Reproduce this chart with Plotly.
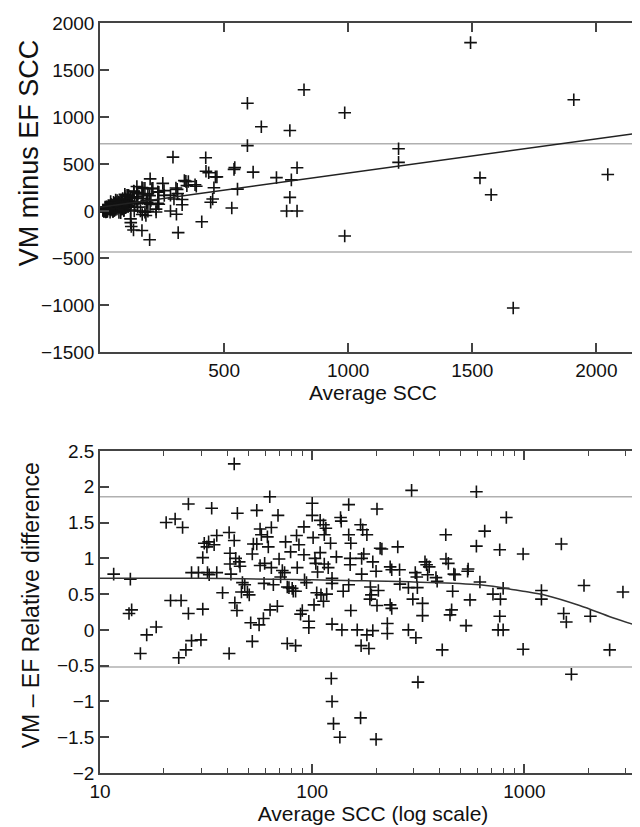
import plotly.graph_objects as go

# ---- data (average SCC, relative difference VM-EF) ----
avg_scc = [
    11.6, 13.9, 13.7, 14.1, 15.5, 16.6, 18.4, 20.5, 22.6, 24.5,
    21.5, 24.1, 26.1, 26.1, 23.5, 25.4, 27.0, 29.9, 30.5, 27.0,
    29.1, 30.5, 31.0, 31.9, 32.5, 33.6, 34.5, 35.5, 32.1, 32.7,
    35.5, 37.8, 40.6, 41.0, 41.0, 41.4, 40.6, 42.9, 42.9, 44.4,
    43.6, 45.3, 45.7, 43.2, 44.2, 46.9, 48.1, 46.4, 49.5, 50.5,
    51.3, 52.2, 52.2, 52.8, 54.8, 54.8, 56.2, 56.8, 57.6, 58.9,
    56.8, 59.7, 61.5, 62.1, 63.1, 64.2, 63.3, 64.2, 59.3, 65.6,
    68.5, 69.0, 69.8, 71.0, 72.3, 74.1, 74.9, 76.3, 77.7, 79.1,
    80.5, 81.4, 83.5, 84.4, 85.0, 86.6, 76.3, 83.5, 88.1, 89.8,
    91.4, 91.4, 92.0, 94.0, 96.4, 96.4, 100, 100, 101, 103,
    102, 104, 105, 106, 109, 109, 110, 113, 113, 114,
    116, 114, 117, 119, 122, 123, 124, 124, 124, 130,
    136, 137, 138, 140,
    148.6, 202, 294, 594, 148.6, 152, 169, 173, 181, 209,
    213, 253, 151, 151, 171, 175, 193, 200, 171, 148.6,
    188, 205, 187, 190, 202, 233, 237, 258, 233, 237,
    152, 163, 181, 193, 170, 185, 226, 226, 259, 284,
    298, 313, 331, 331, 284, 308, 315, 306, 311, 340,
    346, 356, 350, 383, 388, 427, 438, 471, 465, 543,
    540, 426, 459, 454, 446, 531, 554, 410, 617, 594,
    650, 711, 765, 771, 765, 752, 794, 794, 822, 986,
    986, 1203, 1203, 1493, 1531, 1576, 1665, 1909, 2046, 2522,
    2913,
    124, 126, 135, 169, 200,
]
rel_diff = [
    0.78, 0.71, 0.23, 0.28, -0.33, -0.07, 0.04, 1.50, 1.55, 1.43,
    0.41, 0.41, 1.76, 0.23, -0.39, -0.28, -0.15, -0.14, 0.29, 0.80,
    0.80, 1.01, 1.21, 1.16, 1.23, 1.70, 1.19, 1.32, 0.80, 0.77,
    0.80, 0.52, 1.36, 1.07, 0.92, 0.78, -0.33, 2.32, 1.25, 1.63,
    1.00, 0.95, 0.89, 0.38, 0.27, 0.66, 0.63, 0.53, 0.53, 0.49,
    0.10, -0.16, 1.06, 1.20, 1.20, 1.67, 0.07, 1.41, 1.33, 0.16,
    0.90, 0.93, 1.30, 1.16, 1.86, 1.43, 0.28, 0.87, 0.65, 0.63,
    0.33, 1.60, 0.99, 0.74, 0.83, 0.80, 1.23, 0.60, 0.59, 1.09,
    0.58, 0.54, 0.54, 1.32, 0.87, 1.19, -0.19, -0.22, 0.22, 0.27,
    1.05, 1.44, 0.70, 0.66, 0.12, 0.03, 1.77, 1.60, 1.29, 1.00,
    0.35, 0.93, 0.52, 0.81, 1.53, 1.08, 0.49, 1.47, 0.40, 0.92,
    1.42, 1.33, 0.50, 0.87, 1.21, -0.68, 0.08, 0.65, 0.72, 1.02,
    1.57, 1.52, 0.00, 0.54,
    1.75, 1.69, 1.95, 1.93, 1.33, 1.21, 1.47, 1.40, 1.33, 1.14,
    1.13, 1.16, 1.00, 0.91, 1.00, 1.06, 0.95, 0.82, 0.78, 0.63,
    0.60, 0.55, 0.43, 0.49, 0.34, 0.88, 0.84, 0.84, 0.35, 0.30,
    0.27, 0.00, -0.07, -0.01, -0.22, -0.26, 0.09, -0.05, 0.64, 0.59,
    0.43, 0.59, 0.37, 0.20, 0.00, -0.11, -0.73, 0.80, 0.74, 0.95,
    0.91, 0.88, 0.77, 0.73, 0.68, 0.99, 0.93, 0.77, 0.78, 0.85,
    0.82, 1.33, 0.54, 0.28, 0.21, 0.06, 0.42, -0.28, 0.67, 1.17,
    1.38, 0.50, 1.12, 0.43, 0.19, 0.00, 0.00, 0.58, 1.57, 1.06,
    -0.27, 0.55, 0.43, 1.20, 0.23, 0.11, -0.62, 0.62, 0.19, -0.28,
    0.53,
    -1.00, -1.31, -1.50, -1.23, -1.53,
]
# absolute difference VM minus EF (same samples)
vm_minus_ef = [round(a * r, 1) for a, r in zip(avg_scc, rel_diff)]

# regression line of difference on average (top panel)
reg_x = [0, 2200]
reg_y = [40, 840]
# limits of agreement
loa_abs = [715, -437]
loa_rel = [1.86, -0.52]
# fitted relative-difference curve (bottom panel)
curve_x = [10, 30, 100, 146, 300, 617, 986, 1268, 1820, 2608, 3741]
curve_y = [0.72, 0.72, 0.70, 0.69, 0.67, 0.63, 0.54, 0.48, 0.34, 0.17, 0.02]

top_xticks = [500, 1000, 1500, 2000]
bot_xticks = [10, 100, 1000]
bot_minor = [20, 30, 40, 50, 60, 70, 80, 90, 200, 300, 400, 500, 600, 700, 800, 900, 2000, 3000]

FONT = "Liberation Sans, Arial, sans-serif"
mk = dict(symbol="cross-thin", size=9, line=dict(width=1.6, color="#111"))

fig = go.Figure()
fig.add_trace(go.Scatter(x=avg_scc, y=vm_minus_ef, mode="markers", marker=mk,
                         xaxis="x", yaxis="y", showlegend=False))
fig.add_trace(go.Scatter(x=reg_x, y=reg_y, mode="lines", line=dict(color="#222", width=1.5),
                         xaxis="x", yaxis="y", showlegend=False))
fig.add_trace(go.Scatter(x=avg_scc, y=rel_diff, mode="markers", marker=mk,
                         xaxis="x2", yaxis="y2", showlegend=False))
fig.add_trace(go.Scatter(x=curve_x, y=curve_y, mode="lines",
                         line=dict(color="#333", width=1.5, shape="spline"),
                         xaxis="x2", yaxis="y2", showlegend=False))

shapes = []
for v in loa_abs:
    shapes.append(dict(type="line", xref="x domain", yref="y", x0=0, x1=1, y0=v, y1=v,
                       line=dict(color="#b0b0b0", width=1.5), layer="below"))
for v in loa_rel:
    shapes.append(dict(type="line", xref="x2 domain", yref="y2", x0=0, x1=1, y0=v, y1=v,
                       line=dict(color="#b0b0b0", width=1.5), layer="below"))

axis_common = dict(showline=True, linecolor="#444", linewidth=1.5, mirror="ticks",
                   ticks="inside", ticklen=9, tickwidth=1.5, tickcolor="#444",
                   showgrid=False, zeroline=False,
                   tickfont=dict(family=FONT, size=19, color="#111"))

W, H = 640, 827
ml, mr, mt, mb = 92, 0, 15, 62
plot_w = W - ml - mr
plot_h = H - mt - mb
def py(p):
    return (H - mb - p) / plot_h
def px(p):
    return (p - ml) / plot_w

annotations = [
    dict(text="VM minus EF SCC", xref="paper", yref="paper", x=px(21), y=py(145),
         textangle=-90, showarrow=False, xanchor="center", yanchor="middle",
         font=dict(family=FONT, size=27, color="#111")),
    dict(text="VM – EF Relative difference", xref="paper", yref="paper", x=px(23), y=py(597),
         textangle=-90, showarrow=False, xanchor="center", yanchor="middle",
         font=dict(family=FONT, size=23, color="#111")),
]

fig.update_layout(
    width=W, height=H,
    margin=dict(l=ml, r=mr, t=mt, b=mb),
    paper_bgcolor="white", plot_bgcolor="white",
    font=dict(family=FONT, color="#111"),
    shapes=shapes, annotations=annotations,
    xaxis=dict(domain=[0, 1], anchor="y", range=[0, 2200], tickvals=top_xticks,
               title=dict(text="Average SCC", font=dict(size=21), standoff=6), **axis_common),
    yaxis=dict(domain=[py(344), 1], anchor="x", range=[-1500, 2000], tick0=0, dtick=500,
               **axis_common),
    xaxis2=dict(domain=[0, 1], anchor="y2", type="log", range=[1, 3.573],
                tickvals=bot_xticks, ticktext=[str(v) for v in bot_xticks],
                minor=dict(tickvals=bot_minor, ticks="inside", ticklen=5, tickwidth=1.2, tickcolor="#444"),
                title=dict(text="Average SCC (log scale)", font=dict(size=21), standoff=6), **axis_common),
    yaxis2=dict(domain=[0, py(443)], anchor="x2", range=[-2, 2.5], tick0=0, dtick=0.5,
                **axis_common),
)

fig.write_html("out.html")
